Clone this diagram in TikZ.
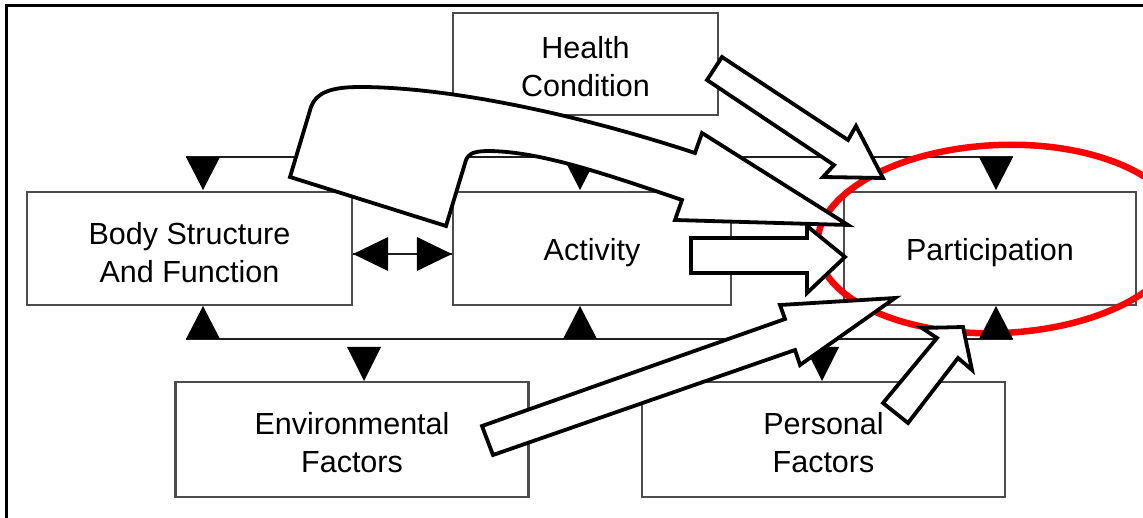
\documentclass[tikz,border=0pt]{standalone}
\usepackage{fontspec}
\setmainfont{Liberation Sans}
\definecolor{boxgray}{gray}{0.3}
\definecolor{busgray}{gray}{0.12}
\begin{document}
\begin{tikzpicture}[x=1pt,y=-1pt,
  box/.style={draw=boxgray, line width=2.2pt, fill=white, inner sep=0pt},
  lbl/.style={inner sep=0pt, align=center, font=\fontsize{30.5}{38}\selectfont},
  bus/.style={draw=busgray, line width=2.8pt},
  tri/.style={fill=black},
  blockarrow/.style={draw=black, line width=3.8pt, fill=white, line join=miter, miter limit=4},
  ring/.style={draw=red, line width=6.5pt}]
\useasboundingbox (0,0) rectangle (1143,518);
% outer frame
\draw[line width=3pt] (6,540) -- (6,6) -- (1160,6);
% boxes
\node[box, minimum width=265pt, minimum height=102pt] (health) at (585.5,64) {};
\node[box, minimum width=325pt, minimum height=113pt] (body) at (189.5,248.5) {};
\node[box, minimum width=278pt, minimum height=113pt] (act) at (592,248.5) {};
\node[box, minimum width=292pt, minimum height=113pt] (part) at (990,248.5) {};
\node[box, minimum width=353pt, minimum height=115pt] (env) at (352,439.5) {};
\node[box, minimum width=363pt, minimum height=115pt] (pers) at (823.5,439.5) {};
% labels
\node[lbl] (healthT) at ([yshift=-3pt]health.center) {Health\\Condition};
\node[lbl] (bodyT) at ([yshift=-4pt]body.center) {Body Structure\\And Function};
\node[lbl] (actT) at ([yshift=-4pt]act.center) {Activity};
\node[lbl] (partT) at ([yshift=-4pt]part.center) {Participation};
\node[lbl] (envT) at ([yshift=-3pt]env.center) {Environmental\\Factors};
\node[lbl] (persT) at ([yshift=-3pt]pers.center) {Personal\\Factors};
% bus lines
\coordinate (topL) at (186,157);
\coordinate (topR) at (1013,157);
\coordinate (botL) at (186,339);
\coordinate (botR) at (1013,339);
\draw[bus] (topL) -- (topR);
\draw[bus] (botL) -- (botR);
% double arrow body <-> activity
\coordinate (dL) at (body.east |- 0,254);
\coordinate (dR) at (act.west |- 0,254);
\draw[bus] (dL) -- (dR);
\fill[tri] (dL) -- ++(35,-17) -- ++(0,34) -- cycle;
\fill[tri] (dR) -- ++(-35,-17) -- ++(0,34) -- cycle;
% red ellipse
\draw[ring, rotate around={2.5:(1000,239)}] (1000,239) ellipse [x radius=183pt, y radius=94pt];
% triangles on top bus (down)
\foreach \x in {203,580,996}{
  \fill[tri] (\x-17,157) -- ++(34,0) -- ++(-17,33) -- cycle;
}
% triangles on bottom bus (up)
\foreach \x in {203,580,996}{
  \fill[tri] (\x-17,339) -- ++(34,0) -- ++(-17,-33) -- cycle;
}
% triangles below bottom bus (down)
\foreach \x in {364,822}{
  \fill[tri] (\x-17,347) -- ++(34,0) -- ++(-17,34) -- cycle;
}
% block arrows
\draw[blockarrow] (290,177) -- (311,107) .. controls (316,93) and (330,87) .. (360,87)
  .. controls (450,87) and (580,115) .. (695,153) -- (702,133) -- (848,225) -- (675,220)
  -- (682,200) .. controls (600,172) and (540,152) .. (490,151)
  .. controls (475,151) and (469,153) .. (466,160) -- (446,226) -- cycle;
\draw[blockarrow] (707,80) -- (722,57) -- (848,140) -- (856,126) -- (883,178) -- (823,177) -- (834,165) -- cycle;
\draw[blockarrow] (691,238) -- (807,238) -- (807,226) -- (845,257) -- (807,293) -- (807,273) -- (691,273) -- cycle;
\draw[blockarrow] (482,426) -- (785,319) -- (780,305) -- (895,298) -- (800,365) -- (795,350) -- (493,455) -- cycle;
\draw[blockarrow] (883,403) -- (937,338) -- (922,328) -- (963,327) -- (972,370) -- (958,358) -- (908,423) -- cycle;
\end{tikzpicture}
\end{document}
